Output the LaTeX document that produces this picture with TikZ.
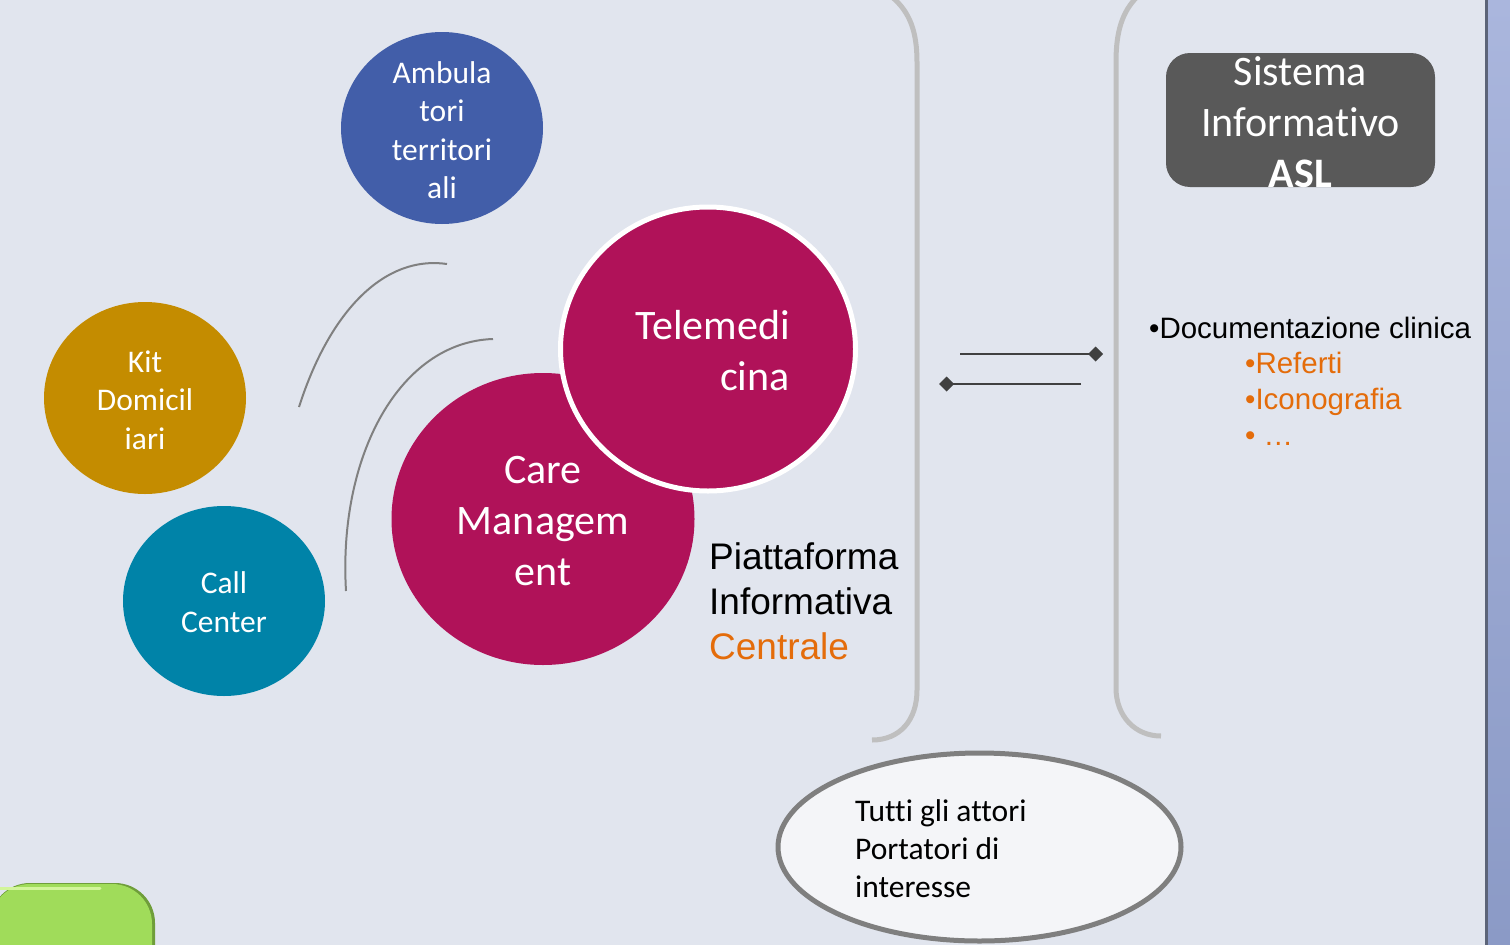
\documentclass[tikz,border=0pt]{standalone}
\usepackage{fontspec}
\setmainfont{Carlito}[Ligatures=NoCommon]
\newfontfamily\calfont{Carlito}[Ligatures=NoCommon]
\newfontfamily\arialfont{Liberation Sans}
\usetikzlibrary{shapes.geometric,arrows.meta}
\definecolor{bg}{HTML}{E1E5EE}
\definecolor{ambc}{HTML}{425EA9}
\definecolor{kitc}{HTML}{C48C00}
\definecolor{callc}{HTML}{0083A8}
\definecolor{carec}{HTML}{B01259}
\definecolor{bracketc}{HTML}{BFBFBF}
\definecolor{orangec}{HTML}{E46C0A}
\definecolor{boxc}{HTML}{595959}
\definecolor{arrc}{HTML}{404040}
\definecolor{curvec}{HTML}{808080}
\definecolor{ellfill}{HTML}{F4F5F8}
\definecolor{ellline}{HTML}{7F7F7F}
\definecolor{stripTop}{HTML}{AAB6DD}
\definecolor{stripBot}{HTML}{8B9AC6}
\definecolor{stripEdge}{HTML}{5C6478}
\definecolor{greenc}{HTML}{A0DC5A}
\definecolor{greenedge}{HTML}{6F9E3A}
\definecolor{greenhi}{HTML}{D2F59A}
\tikzset{
  blob/.style={ellipse, draw=none, inner sep=0pt},
  ctext/.style={text=white, align=center, inner sep=0pt, font=\calfont\fontsize{31.5}{38.5}\selectfont},
  btext/.style={text=white, align=center, inner sep=0pt, font=\calfont\fontsize{42}{51}\selectfont},
  bracket/.style={draw=bracketc, line width=5pt},
  softcurve/.style={draw=curvec, line width=2pt},
  conn/.style={draw=arrc, line width=2.5pt},
}
\begin{document}
\begin{tikzpicture}[x=1pt,y=-1pt]
\useasboundingbox (0,0) rectangle (1510,945);
\fill[bg] (0,0) rectangle (1486,945);
% right strip
\shade[top color=stripTop, bottom color=stripBot] (1486,0) rectangle (1510,945);
\fill[stripEdge] (1484.5,0) rectangle (1487.5,945);

% green shape
\fill[greenedge, rounded corners=40pt] (-10,1000) -- (-10,883) -- (155,883) -- (155,1000);
\fill[greenc, rounded corners=40pt] (-10,1000) -- (-10,884) -- (152,884) -- (152,1000);
\draw[greenhi, line width=3pt, line cap=round] (0,888) -- (100,888);

% brackets
\draw[bracket] (892,-3) .. controls (910,12) and (917,32) .. (917,62) -- (917,690) .. controls (917,720) and (900,740) .. (872,740);
\draw[bracket] (1137,-3) .. controls (1122,12) and (1116,32) .. (1116,62) -- (1116,688) .. controls (1116,716) and (1135,736) .. (1161,736);

% curves
\coordinate (c1a) at (299,407);
\coordinate (c1b) at (447,264);
\coordinate (c2a) at (346,591);
\coordinate (c2b) at (493,339);
\draw[softcurve] (c1a) .. controls (330,310) and (385,255) .. (c1b);
\draw[softcurve] (c2a) .. controls (338,455) and (400,342) .. (c2b);

% circles
\node[blob, fill=ambc, minimum width=202pt, minimum height=192pt] (amb) at (442,128) {};
\node[ctext] (ambT) at (442,130) {Ambula\\tori\\territori\\ali};
\node[blob, fill=kitc, minimum width=202pt, minimum height=192pt] (kit) at (145,398) {};
\node[ctext] (kitT) at (145,400) {Kit\\Domicil\\iari};
\node[blob, fill=callc, minimum width=202pt, minimum height=190pt] (call) at (224,601) {};
\node[ctext] (callT) at (224,602) {Call\\Center};
\node[blob, fill=carec, minimum width=303pt, minimum height=292pt] (care) at (543,519) {};
\node[btext] (careT) at (543,521) {Care\\Managem\\ent};
\node[blob, fill=carec, draw=white, line width=5pt, minimum width=295pt, minimum height=284pt] (tele) at (708,349) {};
\node[btext, align=right] (teleT) at (712.5,351) {Telemedi\\cina};

% Piattaforma
\node[anchor=west, align=left, inner sep=0pt, font=\arialfont\fontsize{37}{45}\selectfont] (piat) at (709,601) {Piattaforma\\Informativa\\\textcolor{orangec}{Centrale}};

% connectors
\coordinate (a1s) at (960,354);
\coordinate (a1e) at (1103,354);
\coordinate (a2s) at (1081,384);
\coordinate (a2e) at (939,384);
\draw[conn, -{Diamond[length=15pt,width=15pt]}] (a1s) -- (a1e);
\draw[conn, -{Diamond[length=15pt,width=15pt]}] (a2s) -- (a2e);

% Sistema box
\node[draw=none, fill=boxc, rounded corners=24pt, minimum width=269pt, minimum height=134pt, inner sep=0pt] (sis) at (1300.5,120) {};
\node[btext] (sisT) at (1300.5,122) {Sistema\\Informativo\\\textbf{ASL}};

% documentation list
\node[anchor=west, inner sep=0pt, font=\arialfont\fontsize{29.5}{35}\selectfont] (doc) at (1149,328) {•Documentazione clinica};
\node[anchor=west, align=left, inner sep=0pt, text=orangec, font=\arialfont\fontsize{29.5}{36}\selectfont] (docl) at (1245,399) {•Referti\\•Iconografia\\• …};

% ellipse
\node[ellipse, fill=ellfill, draw=ellline, line width=5pt, minimum width=403pt, minimum height=188pt, inner sep=0pt] (tutti) at (979.5,847) {};
\node[anchor=west, align=left, inner sep=0pt, font=\calfont\fontsize{31.5}{38}\selectfont] (tuttiT) at (855,849) {Tutti gli attori\\Portatori di\\interesse};
\end{tikzpicture}
\end{document}
